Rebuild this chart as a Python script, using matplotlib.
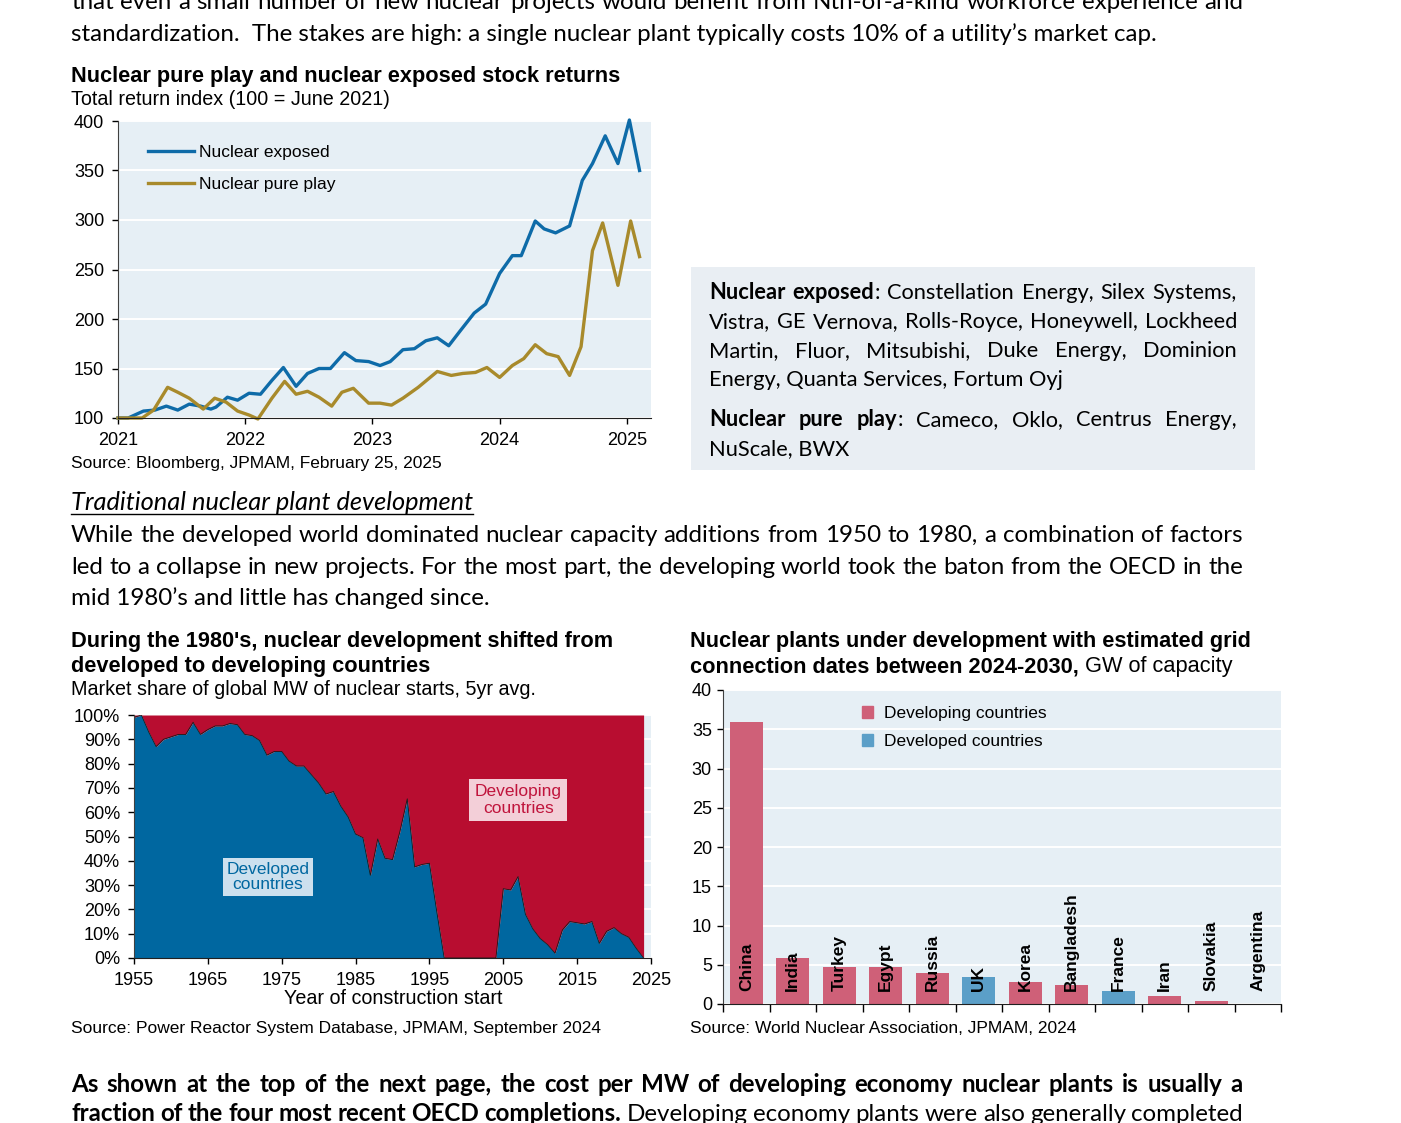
import matplotlib
matplotlib.use('Agg')
import matplotlib.pyplot as plt
from matplotlib.lines import Line2D
from matplotlib.patches import Rectangle, Patch
import numpy as np

plt.rcParams['font.family'] = ['Liberation Sans', 'DejaVu Sans']

# ---- data: stock returns (total return index, 100 = June 2021) ----
exposed_t = [2021.00, 2021.08, 2021.20, 2021.29, 2021.38, 2021.47, 2021.56, 2021.65, 2021.73, 2021.77,
             2021.86, 2021.94, 2022.03, 2022.12, 2022.21, 2022.30, 2022.40, 2022.49, 2022.58, 2022.67,
             2022.78, 2022.87, 2022.97, 2023.06, 2023.14, 2023.24, 2023.33, 2023.42, 2023.51, 2023.60,
             2023.69, 2023.80, 2023.89, 2024.00, 2024.10, 2024.17, 2024.28, 2024.35, 2024.44, 2024.55,
             2024.65, 2024.73, 2024.83, 2024.93, 2025.02, 2025.10]
exposed_v = [100, 100, 107, 108, 112, 108, 114, 112, 109, 111,
             121, 118, 125, 124, 138, 151, 132, 145, 150, 150,
             166, 158, 157, 153, 157, 169, 170, 178, 181, 173,
             188, 206, 215, 246, 264, 264, 299, 291, 287, 294,
             340, 357, 385, 357, 401, 350]

pure_t = [2021.00, 2021.19, 2021.28, 2021.39, 2021.47, 2021.56, 2021.67, 2021.76, 2021.85, 2021.94,
          2022.03, 2022.10, 2022.21, 2022.31, 2022.40, 2022.49, 2022.58, 2022.68, 2022.76, 2022.85,
          2022.97, 2023.06, 2023.15, 2023.24, 2023.36, 2023.51, 2023.62, 2023.71, 2023.81, 2023.90,
          2024.00, 2024.10, 2024.19, 2024.28, 2024.37, 2024.46, 2024.55, 2024.64, 2024.73, 2024.81,
          2024.93, 2025.03, 2025.10]
pure_v = [100, 100, 108, 131, 126, 120, 109, 120, 116, 107,
          103, 99, 120, 137, 124, 127, 121, 112, 126, 130,
          115, 115, 113, 120, 131, 147, 143, 145, 146, 151,
          141, 153, 160, 174, 165, 162, 143, 172, 269, 297,
          234, 299, 263]

# ---- data: developed countries' share of nuclear starts (%) ----
start_years = list(range(1955, 2025))
developed_share = [99, 100, 93, 87, 90, 91, 92, 92, 97, 92,
                   94, 95.5, 95.5, 96.5, 96, 92, 91.5, 89.5, 83.5, 85,
                   85, 81, 79, 79, 75.5, 72, 67.5, 68.5, 62.5, 58,
                   51, 49.5, 34, 49, 41, 40.5, 52, 65.5, 37.5, 38.5,
                   39, 19, 0, 0, 0, 0, 0, 0, 0, 0,
                   28.5, 28, 33.5, 18, 12, 8, 5.5, 2, 11.5, 15,
                   14.5, 14, 15, 6, 11, 12.5, 10, 8.5, 4, 0]

# ---- data: plants under development, GW ----
countries = ['China', 'India', 'Turkey', 'Egypt', 'Russia', 'UK', 'Korea',
             'Bangladesh', 'France', 'Iran', 'Slovakia', 'Argentina']
gw = [35.9, 5.8, 4.75, 4.75, 3.9, 3.4, 2.75, 2.4, 1.6, 1.0, 0.42, 0.03]
group = ['Developing', 'Developing', 'Developing', 'Developing', 'Developing', 'Developed',
         'Developing', 'Developing', 'Developed', 'Developing', 'Developing', 'Developing']

BLUE = '#0E6BA8'
GOLD = '#A88A2B'
AREA_BLUE = '#0067A0'
AREA_RED = '#B80D30'
BAR_PINK = '#CF6078'
BAR_BLUE = '#5B9FC8'
PANEL = '#E6EFF5'

W, H = 1401, 1123
fig = plt.figure(figsize=(W / 100, H / 100), dpi=100)
fig.patch.set_facecolor('white')
r = fig.canvas.get_renderer()

BODY = ['Lato', 'DejaVu Sans']
ARIAL = ['Liberation Sans', 'DejaVu Sans']


def fx(px):
    return px / W


def fy(py):
    return 1 - py / H


def text_w(s, size, family, weight='normal', style='normal'):
    t = fig.text(0, 0, s, fontsize=size, family=family, weight=weight, style=style)
    w = t.get_window_extent(r).width
    t.remove()
    return w


def fit(s, target, family, weight='normal', style='normal'):
    return 10 * target / text_w(s, 10, family, weight, style)


def space_w(size, family, style='normal'):
    return text_w('a a', size, family, 'normal', style) - text_w('aa', size, family, 'normal', style)


def put_line(segs, x0, base, size, family, x1=None, color='black', style='normal'):
    # segs = [(text, weight), ...]; x1 given -> justify between x0 and x1
    if x1 is None:
        x = x0
        for txt, wt in segs:
            if txt.startswith(' '):
                x += space_w(size, family, style)
            txt = txt.strip()
            fig.text(fx(x), fy(base), txt, fontsize=size, family=family, weight=wt,
                     style=style, color=color, va='baseline', ha='left')
            x += text_w(txt, size, family, wt, style)
        return x
    words = []
    for txt, wt in segs:
        for i, tok in enumerate(txt.split(' ')):
            if not tok:
                continue
            if i == 0 and words and not txt.startswith(' '):
                words[-1].append((tok, wt))
            else:
                words.append([(tok, wt)])
    widths = [[text_w(tok, size, family, wt, style) for tok, wt in wd] for wd in words]
    total = sum(sum(w) for w in widths)
    gap = (x1 - x0 - total) / (len(words) - 1)
    x = x0
    for wd, ws in zip(words, widths):
        for (tok, wt), w in zip(wd, ws):
            fig.text(fx(x), fy(base), tok, fontsize=size, family=family, weight=wt,
                     style=style, color=color, va='baseline', ha='left')
            x += w
        x += gap
    return x - gap


# ---------------- body text ----------------
body_size = fit("standardization.  The stakes are high: a single nuclear plant typically costs 10% of a utility\u2019s market cap.", 1087, BODY)
L, R = 71, 1243
put_line([("that even a small number of new nuclear projects would benefit from Nth-of-a-kind workforce experience and", 'normal')], L, 9, body_size, BODY, x1=R)
put_line([("standardization.  The stakes are high: a single nuclear plant typically costs 10% of a utility\u2019s market cap.", 'normal')], L, 41, body_size, BODY)

head_size = fit("Traditional nuclear plant development", 403, BODY, style='italic')
x_end = put_line([("Traditional nuclear plant development", 'normal')], L, 510, head_size, BODY, style='italic')
fig.add_artist(Line2D([fx(L), fx(x_end)], [fy(514), fy(514)], color='black', lw=1))
put_line([("While the developed world dominated nuclear capacity additions from 1950 to 1980, a combination of factors", 'normal')], L, 542, body_size, BODY, x1=R)
put_line([("led to a collapse in new projects.  For the most part, the developing world took the baton from the OECD in the", 'normal')], L, 574, body_size, BODY, x1=R)
put_line([("mid 1980\u2019s and little has changed since.", 'normal')], L, 605, body_size, BODY)

put_line([("As shown at the top of the next page, the cost per MW of developing economy nuclear plants is usually a", 'bold')], L, 1092, body_size, BODY, x1=R)
put_line([("fraction of the four most recent OECD completions.", 'bold'), (" Developing economy plants were also generally completed", 'normal')], L, 1121, body_size, BODY, x1=R)

# side box with constituents
fig.add_artist(Rectangle((fx(691), fy(470)), (1255 - 691) / W, (470 - 267) / H,
                         transform=fig.transFigure, facecolor='#E9EEF3', edgecolor='none', zorder=0))
box_size = fit("Energy, Quanta Services, Fortum Oyj", 355, BODY)
BL, BR = 709, 1237
put_line([("Nuclear exposed", 'bold'), (": Constellation Energy, Silex Systems,", 'normal')], BL, 299, box_size, BODY, x1=BR)
put_line([("Vistra, GE Vernova, Rolls-Royce, Honeywell, Lockheed", 'normal')], BL, 328, box_size, BODY, x1=BR)
put_line([("Martin, Fluor, Mitsubishi, Duke Energy, Dominion", 'normal')], BL, 357, box_size, BODY, x1=BR)
put_line([("Energy, Quanta Services, Fortum Oyj", 'normal')], BL, 386, box_size, BODY)
put_line([("Nuclear pure play", 'bold'), (": Cameco, Oklo, Centrus Energy,", 'normal')], BL, 426, box_size, BODY, x1=BR)
put_line([("NuScale, BWX", 'normal')], BL, 455, box_size, BODY)

# ---------------- chart titles ----------------
title_size = fit("Nuclear pure play and nuclear exposed stock returns", 551, ARIAL, 'bold')
sub_size = fit("Total return index (100 = June 2021)", 319, ARIAL)
src_size = fit("Source: Bloomberg, JPMAM, February 25, 2025", 373, ARIAL)
xlab_size = fit("Year of construction start", 219, ARIAL)
tick_size = 13

put_line([("Nuclear pure play and nuclear exposed stock returns", 'bold')], 71, 82, title_size, ARIAL)
put_line([("Total return index (100 = June 2021)", 'normal')], 71, 105, sub_size, ARIAL)
put_line([("Source: Bloomberg, JPMAM, February 25, 2025", 'normal')], 71, 468, src_size, ARIAL)

put_line([("During the 1980's, nuclear development shifted from", 'bold')], 71, 647, title_size, ARIAL)
put_line([("developed to developing countries", 'bold')], 71, 672, title_size, ARIAL)
put_line([("Market share of global MW of nuclear starts, 5yr avg.", 'normal')], 71, 695, sub_size, ARIAL)
put_line([("Source: Power Reactor System Database, JPMAM, September 2024", 'normal')], 71, 1033, src_size, ARIAL)

put_line([("Nuclear plants under development with estimated grid", 'bold')], 690, 647, title_size, ARIAL)
put_line([("connection dates between 2024-2030,", 'bold'), (" GW of capacity", 'normal')], 690, 672, title_size, ARIAL)
put_line([("Source: World Nuclear Association, JPMAM, 2024", 'normal')], 690, 1033, src_size, ARIAL)


def style_axes(ax, pad):
    ax.set_facecolor(PANEL)
    for s in ['top', 'right']:
        ax.spines[s].set_visible(False)
    ax.spines['left'].set_color('#404040')
    ax.spines['bottom'].set_color('#202020')
    ax.grid(axis='y', color='white', lw=1.4)
    ax.set_axisbelow(True)
    ax.tick_params(length=4, width=1, labelsize=tick_size, pad=pad, colors='black')


# ---------------- chart 1: stock returns ----------------
ax1 = fig.add_axes([fx(118), fy(418), (651 - 118) / W, (418 - 121) / H])
style_axes(ax1, 6)
ax1.plot(exposed_t, exposed_v, color=BLUE, lw=2.4, label='Nuclear exposed', clip_on=False,
         solid_joinstyle='round')
ax1.plot(pure_t, pure_v, color=GOLD, lw=2.4, label='Nuclear pure play', clip_on=False,
         solid_joinstyle='round')
ax1.set_xlim(2021, 2025.19)
ax1.set_ylim(100, 400)
ax1.set_yticks(range(100, 401, 50))
ax1.set_xticks(range(2021, 2026))
ax1.legend(loc='upper left', bbox_to_anchor=(0.057, 0.92), frameon=False, fontsize=12.5,
           handlelength=2.6, handletextpad=0.3, labelspacing=1.0, borderaxespad=0, borderpad=0)

# ---------------- chart 2: market share area ----------------
ax2 = fig.add_axes([fx(134), fy(958), (651 - 134) / W, (958 - 715) / H])
style_axes(ax2, 6)
ax2.fill_between(start_years, 0, developed_share, color=AREA_BLUE, lw=0)
ax2.fill_between(start_years, developed_share, 100, color=AREA_RED, lw=0)
ax2.plot(start_years, developed_share, color='#1a1a1a', lw=0.6)
ax2.set_xlim(1955, 2025)
ax2.set_ylim(0, 100)
ax2.set_yticks(range(0, 101, 10))
ax2.set_yticklabels([f'{v}%' for v in range(0, 101, 10)])
ax2.set_xticks(range(1955, 2026, 10))
ax2.text(0.259, 0.333, 'Developed\ncountries', transform=ax2.transAxes, ha='center', va='center',
         color=AREA_BLUE, fontsize=12.5, linespacing=1.05,
         bbox=dict(boxstyle='square,pad=0.22', fc='#CCE0EE', ec='none'))
ax2.text(0.743, 0.65, 'Developing\ncountries', transform=ax2.transAxes, ha='center', va='center',
         color='#C0143C', fontsize=12.5, linespacing=1.1,
         bbox=dict(boxstyle='square,pad=0.3', fc='#F3CFD8', ec='none'))
fig.text(fx(393), fy(1004), 'Year of construction start', fontsize=xlab_size, family=ARIAL,
         ha='center', va='baseline')

# ---------------- chart 3: plants under development ----------------
ax3 = fig.add_axes([fx(723), fy(1004), (1281 - 723) / W, (1004 - 690) / H])
style_axes(ax3, 4)
pos = np.arange(len(countries))
cols = [BAR_PINK if g == 'Developing' else BAR_BLUE for g in group]
ax3.bar(pos, gw, width=0.71, color=cols)
ax3.set_xlim(-0.5, len(countries) - 0.5)
ax3.set_ylim(0, 40)
ax3.set_yticks(range(0, 41, 5))
ax3.set_xticks(np.arange(-0.5, len(countries), 1))
ax3.set_xticklabels([])
ax3.tick_params(axis='x', length=6)
for p, c in zip(pos, countries):
    ax3.text(p, 1.7, c, rotation=90, ha='center', va='bottom', fontsize=12.5, weight='bold')
ax3.legend(handles=[Patch(color=BAR_PINK, label='Developing countries'),
                    Patch(color=BAR_BLUE, label='Developed countries')],
           loc='upper left', bbox_to_anchor=((862 - 723) / 558, (1004 - 706) / 314), frameon=False,
           fontsize=12.5, handlelength=0.65, handleheight=0.65, handletextpad=0.6,
           labelspacing=0.75, borderaxespad=0, borderpad=0)

fig.savefig('out.png', dpi=100, facecolor='white')
